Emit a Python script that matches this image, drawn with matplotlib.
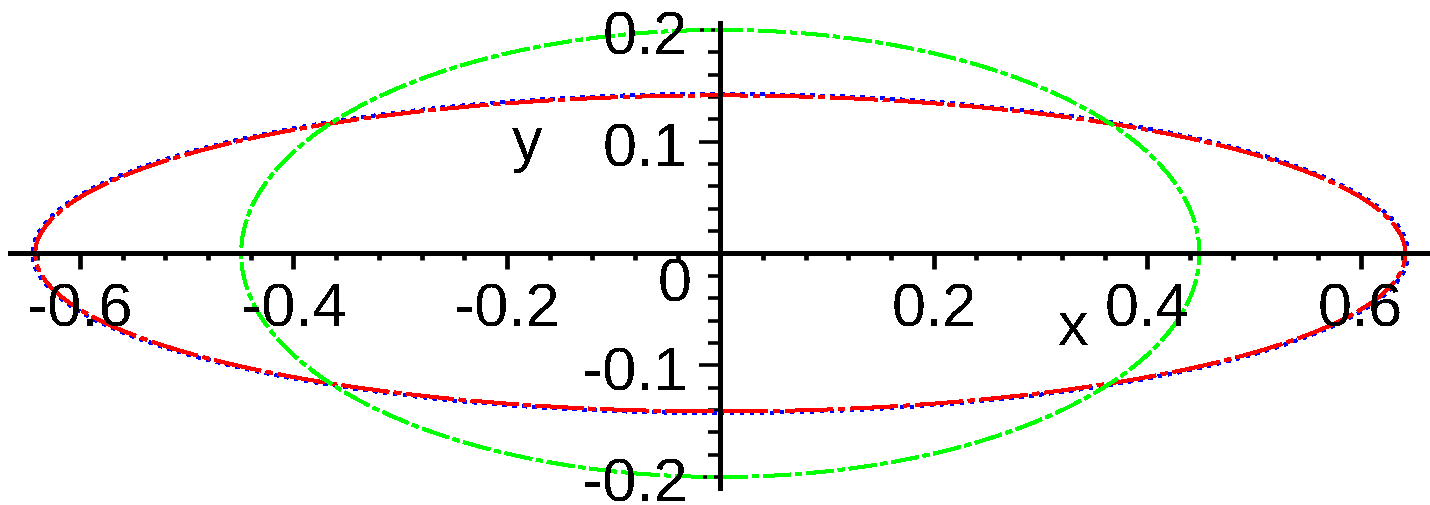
import numpy as np
import matplotlib
matplotlib.use("Agg")
import matplotlib.pyplot as plt
from matplotlib.patches import Ellipse
from matplotlib.ticker import FixedLocator

plt.rcParams['font.family'] = ['Liberation Sans', 'DejaVu Sans']
plt.rcParams['text.antialiased'] = False
plt.rcParams['lines.scale_dashes'] = False

# semi-axes (a along x, b along y) of the three curves
red_a, red_b = 0.642, 0.1414
blue_a, blue_b = 0.6445, 0.1428
green_a, green_b = 0.449, 0.2

# labelled ticks
x_ticks = [-0.6, -0.4, -0.2, 0.2, 0.4, 0.6]
x_tick_text = ['-0.6', '-0.4', '-0.2', '0.2', '0.4', '0.6']
y_ticks = [0.2, 0.1, -0.1, -0.2]
y_tick_text = ['0.2', '0.1', '-0.1', '-0.2']

fig = plt.figure(figsize=(14.3, 5.05), dpi=100)
ax = fig.add_axes([0, 0, 1, 1])
ax.set_xlim(-0.675, 0.665)
ax.set_ylim(-0.2251, 0.2268)

# curves
ax.add_patch(Ellipse((0, 0), 2 * blue_a, 2 * blue_b, fill=False, color='#0000ff',
                     lw=2.4, ls=(0, (2.5, 5)), antialiased=False, zorder=2))
ax.add_patch(Ellipse((0, 0), 2 * red_a, 2 * red_b, fill=False, color='#ff0000',
                     lw=2.2, ls=(0, (34, 4, 5, 4)), antialiased=False, zorder=3))
ax.add_patch(Ellipse((0, 0), 2 * green_a, 2 * green_b, fill=False, color='#00ff00',
                     lw=2.3, ls=(0, (20, 3.5, 5, 3.5)), antialiased=False, zorder=3))

# axes through the origin
for side in ['top', 'right']:
    ax.spines[side].set_visible(False)
ax.spines['left'].set_position('zero')
ax.spines['bottom'].set_position('zero')
ax.spines['bottom'].set_bounds(-0.666, 0.663)
ax.spines['left'].set_bounds(-0.2098, 0.2063)
for side in ['left', 'bottom']:
    ax.spines[side].set_linewidth(3.6)
    ax.spines[side].set_antialiased(False)
    ax.spines[side].set_zorder(5)

ax.xaxis.set_major_locator(FixedLocator(x_ticks))
ax.xaxis.set_minor_locator(FixedLocator(np.arange(-0.64, 0.641, 0.04)))
ax.yaxis.set_major_locator(FixedLocator(y_ticks))
ax.yaxis.set_minor_locator(FixedLocator(np.arange(-0.2, 0.201, 0.02)))
ax.tick_params(axis='x', which='major', direction='out', length=11.2, width=3.4,
               labelbottom=False)
ax.tick_params(axis='x', which='minor', direction='out', length=5, width=3.4)
ax.tick_params(axis='y', which='major', direction='out', length=14.8, width=2.6,
               labelleft=False)
ax.tick_params(axis='y', which='minor', direction='out', length=8.3, width=2.6)

fs = 44
for v, t in zip(x_ticks, x_tick_text):
    ax.text(v, -0.0658, t, fontsize=fs, ha='center', va='baseline', zorder=6)
for v, t in zip(y_ticks, y_tick_text):
    ax.text(-0.0302, v - 0.0224, t, fontsize=fs, ha='right', va='baseline', zorder=6)
ax.text(-0.0433, -0.0434, '0', fontsize=fs, ha='center', va='baseline', zorder=6)
ax.text(0.3315, -0.0819, 'x', fontsize=fs, ha='center', va='baseline', zorder=6)
ax.text(-0.1806, 0.0837, 'y', fontsize=fs, ha='center', va='baseline', zorder=6)

fig.savefig('out.png', dpi=100)
